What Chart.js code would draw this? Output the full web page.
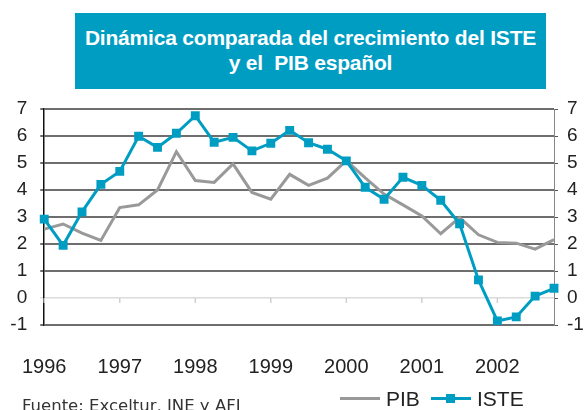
<!DOCTYPE html>
<html>
<head>
<meta charset="utf-8">
<script src="https://cdn.jsdelivr.net/npm/chart.js@4.4.1/dist/chart.umd.min.js"></script>
<style>
  html, body { margin: 0; padding: 0; background: #fff; }
  #wrap { position: relative; width: 584px; height: 410px; overflow: hidden; font-family: "Liberation Sans", Arial, sans-serif; }
  #titulo { position: absolute; left: 75px; top: 13px; width: 471px; height: 76px; background: #009dc3;
            color: #fff; font-weight: bold; font-size: 21px; line-height: 25px; text-align: center;
            padding-top: 12px; box-sizing: border-box; letter-spacing: -0.2px; }
  #fuente { position: absolute; left: 22px; top: 396px; font-family: "DejaVu Sans", sans-serif; font-size: 16.5px; color: #333; white-space: nowrap; }
  .ley { position: absolute; top: 388px; font-size: 21px; color: #222; line-height: 22px; }
  .lin { position: absolute; height: 3px; top: 397px; }
  .sq { position: absolute; width: 9px; height: 9px; top: 394px; background: #009dc3; }
</style>
</head>
<body>
<div id="wrap">
  <canvas id="grafico" width="584" height="410"></canvas>
  <div id="titulo">Dinámica comparada del crecimiento del ISTE<br>y el&nbsp; PIB español</div>
  <div class="lin" style="left:340px; width:40px; background:#999;"></div>
  <div class="ley" style="left:386px;">PIB</div>
  <div class="lin" style="left:431px; width:40px; background:#009dc3;"></div>
  <div class="sq" style="left:446px;"></div>
  <div class="ley" style="left:477px;">ISTE</div>
  <div id="fuente">Fuente: Exceltur, INE y AFI</div>
</div>
<script>
// trimestres 1996-2002
const years = ['1996', '1997', '1998', '1999', '2000', '2001', '2002'];
const quarters = [];
years.forEach(y => { for (let q = 1; q <= 4; q++) quarters.push(y + ' T' + q); });

// tasa de variación interanual (%)
const pib = [2.55, 2.74, 2.40, 2.13, 3.35, 3.45, 4.00, 5.42, 4.35, 4.28, 4.97, 3.91, 3.66, 4.58,
             4.17, 4.44, 5.09, 4.45, 3.85, 3.45, 3.04, 2.38, 2.98, 2.34, 2.06, 2.03, 1.81, 2.16];
const iste = [2.92, 1.95, 3.19, 4.21, 4.69, 5.99, 5.58, 6.10, 6.75, 5.77, 5.95, 5.45, 5.73, 6.21,
              5.75, 5.51, 5.08, 4.10, 3.66, 4.47, 4.17, 3.62, 2.75, 0.67, -0.85, -0.70, 0.07, 0.36];

const yTicks = [-1, 0, 1, 2, 3, 4, 5, 6, 7];

const TEAL = '#009dc3';
const GRIS = '#999999';

// marcas cortas bajo la línea del cero, una por año
const marcasCero = {
  id: 'marcasCero',
  afterDatasetsDraw(chart) {
    const { ctx, scales: { x, y } } = chart;
    const y0 = y.getPixelForValue(0);
    ctx.save();
    ctx.strokeStyle = '#d0d0d0';
    ctx.lineWidth = 1.5;
    for (let i = 0; i < quarters.length; i += 4) {
      const px = x.getPixelForValue(i);
      ctx.beginPath();
      ctx.moveTo(px, y0);
      ctx.lineTo(px, y0 + 5);
      ctx.stroke();
    }
    ctx.restore();
  }
};

Chart.defaults.font.family = '"Liberation Sans", Arial, sans-serif';
Chart.defaults.color = '#222';

new Chart(document.getElementById('grafico'), {
  type: 'line',
  data: {
    labels: quarters,
    datasets: [
      { label: 'PIB', data: pib, borderColor: GRIS, borderWidth: 3, pointRadius: 0, tension: 0, yAxisID: 'y', order: 2 },
      { label: 'ISTE', data: iste, borderColor: TEAL, backgroundColor: TEAL, borderWidth: 3,
        pointStyle: 'rect', pointRadius: 6.3, pointBorderWidth: 0, pointBackgroundColor: TEAL,
        tension: 0, yAxisID: 'y', order: 1 }
    ]
  },
  options: {
    responsive: false,
    animation: false,
    layout: { padding: { top: 109, left: 0, right: 0, bottom: 0 } },
    plugins: { legend: { display: false }, tooltip: { enabled: false } },
    scales: {
      x: {
        type: 'category',
        offset: false,
        grid: { display: false },
        border: { display: false },
        ticks: {
          autoSkip: false, maxRotation: 0, padding: 22,
          font: { size: 20 },
          callback: (v, i) => (i % 4 === 0 ? quarters[i].slice(0, 4) : '')
        },
        afterFit: s => { s.height = 85; }
      },
      y: {
        position: 'left',
        min: -1, max: 7,
        afterBuildTicks: s => { s.ticks = yTicks.map(v => ({ value: v })); },
        grid: {
          color: c => (c.tick && c.tick.value === 0 ? '#dcdcdc' : '#6e6e6e'),
          lineWidth: c => (c.tick && c.tick.value === 0 ? 1.5 : 2),
          tickLength: 4
        },
        border: { color: '#111', width: 1.5 },
        ticks: { padding: 13, font: { size: 19 } },
        afterFit: s => { s.width = 42; }
      },
      y2: {
        position: 'right',
        min: -1, max: 7,
        afterBuildTicks: s => { s.ticks = yTicks.map(v => ({ value: v })); },
        grid: { drawOnChartArea: false, color: '#555', tickLength: 4 },
        border: { color: '#888', width: 1 },
        ticks: { padding: 9, font: { size: 19 } },
        afterFit: s => { s.width = 30; }
      }
    }
  },
  plugins: [marcasCero]
});
</script>
</body>
</html>
